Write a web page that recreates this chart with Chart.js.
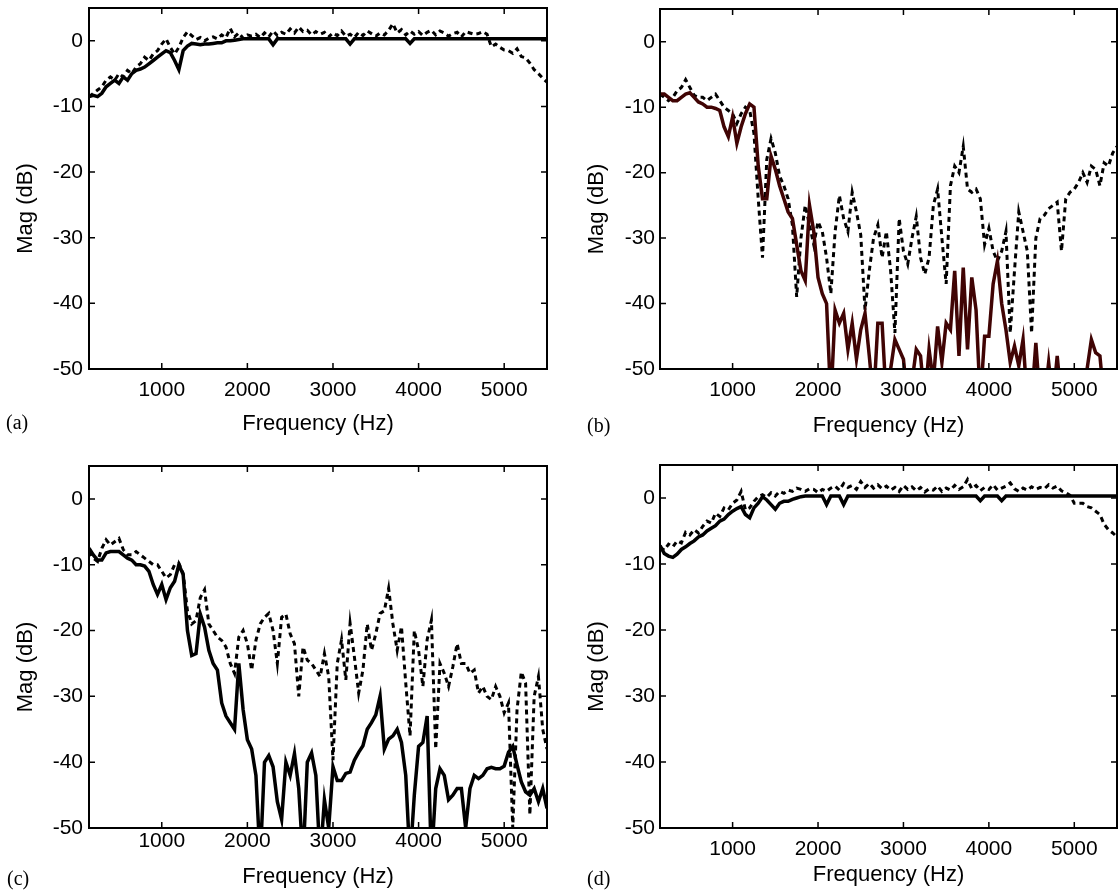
<!DOCTYPE html>
<html>
<head>
<meta charset="utf-8">
<script src="https://cdn.jsdelivr.net/npm/chart.js@4.4.1/dist/chart.umd.min.js"></script>
<style>
  body { margin: 0; background: #fff; width: 1120px; height: 890px; position: relative; overflow: hidden; }
  .painel { position: absolute; width: 560px; height: 445px; }
  .letra { position: absolute; font-family: "Liberation Serif", "Times New Roman", serif; font-size: 20px; line-height: 20px; color: #000; }
</style>
</head>
<body>
<div class="painel" style="left:0;top:0"><canvas id="graficoA"></canvas></div>
<div class="painel" style="left:560px;top:0"><canvas id="graficoB"></canvas></div>
<div class="painel" style="left:0;top:445px"><canvas id="graficoC"></canvas></div>
<div class="painel" style="left:560px;top:445px"><canvas id="graficoD"></canvas></div>
<div class="letra" style="left:6px;top:412px">(a)</div>
<div class="letra" style="left:587px;top:415px">(b)</div>
<div class="letra" style="left:7px;top:868px">(c)</div>
<div class="letra" style="left:587px;top:868px">(d)</div>
<script>
// frequencias (Hz)
const frequencias = [
  150, 200, 250, 300, 350, 400, 450, 500, 550, 600,
  650, 700, 750, 800, 850, 900, 950, 1000, 1050, 1100,
  1150, 1200, 1250, 1300, 1350, 1400, 1450, 1500, 1550, 1600,
  1650, 1700, 1750, 1800, 1850, 1900, 1950, 2000, 2050, 2100,
  2150, 2200, 2250, 2300, 2350, 2400, 2450, 2500, 2550, 2600,
  2650, 2700, 2750, 2800, 2850, 2900, 2950, 3000, 3050, 3100,
  3150, 3200, 3250, 3300, 3350, 3400, 3450, 3500, 3550, 3600,
  3650, 3700, 3750, 3800, 3850, 3900, 3950, 4000, 4050, 4100,
  4150, 4200, 4250, 4300, 4350, 4400, 4450, 4500, 4550, 4600,
  4650, 4700, 4750, 4800, 4850, 4900, 4950, 5000, 5050, 5100,
  5150, 5200, 5250, 5300, 5350, 5400, 5450, 5500
];
const ticksX = [1000, 2000, 3000, 4000, 5000];
const ticksY = [-50, -40, -30, -20, -10, 0];

// (a)
const solidaA = [
  -8.5, -8.3, -8.5, -8, -7, -6.5, -6, -6.5, -5.5, -6,
  -5, -4.5, -4.3, -4, -3.5, -3, -2.5, -2, -1.5, -1.8,
  -3, -4.4, -1.5, -0.8, -0.4, -0.5, -0.6, -0.5, -0.5, -0.4,
  -0.3, -0.3, 0, 0, 0.1, 0.2, 0.3, 0.3, 0.3, 0.3,
  0.3, 0.3, 0.3, -0.6, 0.3, 0.3, 0.3, 0.3, 0.3, 0.3,
  0.3, 0.3, 0.3, 0.3, 0.3, 0.3, 0.3, 0.3, 0.3, 0.3,
  0.3, -0.5, 0.3, 0.3, 0.3, 0.3, 0.3, 0.3, 0.3, 0.3,
  0.3, 0.3, 0.3, 0.3, 0.3, -0.4, 0.3, 0.3, 0.3, 0.3,
  0.3, 0.3, 0.3, 0.3, 0.3, 0.3, 0.3, 0.3, 0.3, 0.3,
  0.3, 0.3, 0.3, 0.3, 0.3, 0.3, 0.3, 0.3, 0.3, 0.3,
  0.3, 0.3, 0.3, 0.3, 0.3, 0.3, 0.3, 0.3
];
const tracejadaA = [
  -8.5, -8, -7.5, -7, -6, -5.5, -6, -5, -5.5, -4.5,
  -5, -4, -3.5, -2.5, -3, -2, -1.5, -0.5, 0.3, -1,
  -2, -1, 0.5, 1.4, 0.8, 0.2, 0.5, 0, 0.4, 0.6,
  0.3, 0.9, 0.5, 1.9, 0.6, 1.2, 0.4, 0.9, 0.7, 1.0,
  0.5, 1.2, 0.6, 1.5, 0.8, 1.3, 1.0, 1.8, 1.2, 2.1,
  1.4, 1.6, 0.9, 1.4, 1.0, 1.3, 0.6, 1.2, 0.8, 1.5,
  0.7, 1.0, 0.5, 1.3, 0.8, 1.5, 1.1, 0.7, 1.2, 0.9,
  1.6, 2.6, 1.2, 1.7, 0.9, 1.5, 1.0, 1.4, 0.8, 1.3,
  1.6, 0.9, 1.5, 1.2, 0.7, 1.1, 1.3, 0.6, 1.4, 1.2,
  1.0, 1.1, 1.4, 1.0, -0.9, -0.5, -1.0, -1.4, -1.5, -1.9,
  -1.2, -2.4, -2.6, -3.4, -4.4, -5.0, -5.7, -6.3
];

// (b)
const solidaB = [
  -8, -8, -8.5, -9, -9, -8.5, -8, -7.8, -8.5, -9.2,
  -9.5, -10, -10, -10.2, -10.5, -13, -14.5, -11.5, -15.5, -13,
  -11, -9.5, -10, -19, -24, -24, -17.5, -19.5, -22, -24,
  -26, -27, -31, -35, -36.5, -25, -29, -36, -38.5, -40,
  -55, -41, -43, -41.5, -47, -43, -48.5, -44, -41.5, -48,
  -55, -43, -43, -55, -50, -45.5, -47, -48.5, -55, -52,
  -47, -48, -55, -47, -52, -43.5, -49, -43, -44, -35,
  -48, -34.5, -47, -36, -41, -55, -45, -45, -37, -33.5,
  -40, -44, -49, -46.5, -49.5, -45.5, -55, -55, -46, -55,
  -55, -49, -55, -48, -55, -55, -55, -55, -55, -55,
  -50, -45.5, -47.5, -48, -55, -55, -55, -55
];
const tracejadaB = [
  -8, -8.5, -9, -8.5, -7.5, -7, -5.8, -7, -8.2, -8.5,
  -8.5, -9, -8.5, -8, -9, -10, -10.5, -11, -12.5, -11,
  -10, -10.5, -14, -24, -33, -18, -14.8, -17, -20.5, -22,
  -24, -28, -39, -30, -25, -28, -31, -27.5, -29, -33,
  -38.5, -29, -23.5, -27, -29, -23, -26, -29.5, -41, -35,
  -30, -28, -33, -29, -35, -44.5, -27, -32, -34, -30,
  -26.7, -33, -35.5, -33, -25, -22.5, -30, -37, -22, -19,
  -20, -16, -22.5, -23, -22.5, -24, -31, -28.5, -32, -33.5,
  -32, -29, -44.5, -35, -26, -29, -32, -44.5, -30, -27,
  -26.5, -25.5, -25, -24.5, -32, -24, -23, -22.5, -21.5, -20,
  -21.5, -19, -19.5, -22, -18.5, -19, -17, -16
];

// (c)
const solidaC = [
  -7.5, -8.5, -9.3, -9.3, -8.2, -8, -8, -8, -8.5, -9,
  -9.3, -10, -10, -10.2, -11, -13, -14.5, -13, -15.3, -13.5,
  -12.5, -10, -11.5, -20, -23.8, -23.5, -17.5, -19.5, -23, -25,
  -26, -31, -33, -34, -35, -25, -32, -36.6, -38, -42,
  -55, -40, -39, -40.7, -46, -48.7, -40, -42, -38.7, -44,
  -55, -40, -38.6, -42, -55, -45.7, -50, -40.7, -42.8, -42.8,
  -41.7, -41.5, -39.7, -38.5, -37.5, -35, -34, -32.8, -30, -38,
  -36.5, -36, -35, -37, -42, -55, -45, -37.6, -37, -33,
  -55, -44, -41, -42, -45.7, -45, -44, -44, -50, -44,
  -42, -42.5, -42, -41, -40.8, -41, -41, -40.6, -38.5, -37.6,
  -40.4, -43, -44.5, -45, -44, -46, -44, -47
];
const tracejadaC = [
  -8, -9, -9.5, -7.5, -6.2, -7, -6.5, -6, -7.7, -8.5,
  -8.5, -8, -8.5, -9, -9.5, -10, -10, -11, -12, -11.5,
  -10, -9.8, -11.3, -17, -19, -18.5, -15, -13.8, -19, -20,
  -21, -21.5, -22.5, -25, -26.5, -21, -20, -22, -26, -21.5,
  -19, -18, -17.4, -20, -25, -18, -17.5, -20.5, -22, -30,
  -22.5, -24.5, -25, -26, -27, -23.5, -27, -39.7, -25, -21.4,
  -27.5, -18.9, -24, -29.5, -26, -19, -23, -20.5, -17.4, -17,
  -13.6, -19, -23, -19.4, -28, -36, -20, -23, -28.5, -21.4,
  -18.4, -38, -25, -26.5, -28.5, -25.5, -22, -25, -25, -26.5,
  -26, -29.5, -28.5, -30, -30.5, -28.5, -30, -32.5, -31, -50,
  -32, -26.3, -28, -48, -30, -27, -35, -38
];

// (d)
const solidaD = [
  -7.2, -8.4, -8.8, -9, -8.5, -7.8, -7.4, -6.9, -6.5, -5.9,
  -5.6, -5, -4.6, -4.2, -3.5, -3.2, -2.5, -2.0, -1.6, -1.3,
  -2.5, -3.0, -1.5, -0.8, 0.2, -0.3, -1.0, -1.7, -0.8, -0.5,
  -0.5, -0.2, 0, 0.2, 0.3, 0.3, 0.3, 0.3, 0.3, -1.0,
  0.3, 0.3, 0.3, -1.0, 0.3, 0.3, 0.3, 0.3, 0.3, 0.3,
  0.3, 0.3, 0.3, 0.3, 0.3, 0.3, 0.3, 0.3, 0.3, 0.3,
  0.3, 0.3, 0.3, 0.3, 0.3, 0.3, 0.3, 0.3, 0.3, 0.3,
  0.3, 0.3, 0.3, 0.3, 0.3, -0.4, 0.3, 0.3, 0.3, 0.3,
  -0.4, 0.3, 0.3, 0.3, 0.3, 0.3, 0.3, 0.3, 0.3, 0.3,
  0.3, 0.3, 0.3, 0.3, 0.3, 0.3, 0.3, 0.3, 0.3, 0.3,
  0.3, 0.3, 0.3, 0.3, 0.3, 0.3, 0.3, 0.3
];
const tracejadaD = [
  -7.5, -7.9, -7, -7.4, -6.5, -6.8, -5.2, -5.6, -4.8, -5.3,
  -4.3, -3.5, -3.8, -2.3, -2.8, -1.5, -1.8, -0.8, -0.3, 1.0,
  -1.8, -1.5, -0.5, 0.2, 0.5, 0.1, 0.8, 0.3, 1.0, 0.7,
  1.2, 1.0, 1.5, 1.3, 1.0, 1.4, 1.3, 0.8, 1.3, 1.0,
  1.5, 1.8, 1.2, 2.2, 1.6, 1.9, 1.3, 2.5, 1.6, 2.2,
  1.5, 2.0, 1.4, 1.8, 1.2, 1.6, 1.0, 1.9, 1.3, 1.7,
  1.1, 1.6, 0.9, 1.4, 1.2, 1.8, 1.0, 1.5, 1.2, 1.9,
  1.3, 1.7, 2.8, 1.4, 1.9, 1.1, 1.6, 1.3, 2.0, 1.2,
  1.5, 1.8, 2.3, 1.4, 1.0, 1.5, 1.2, 1.7, 1.3, 1.6,
  1.4, 2.0, 1.5, 1.8, 1.1, 0.8, 0.4, -0.8, -0.8, -0.8,
  -1.3, -1.5, -2.0, -2.5, -4.0, -4.8, -5.3, -5.9
];

const fonte = '"Liberation Sans", Arial, Helvetica, sans-serif';

function pontos(valores) {
  return frequencias.map((f, i) => ({ x: f, y: valores[i] }));
}

// moldura com marcas para dentro, estilo matlab
const moldura = {
  id: 'moldura',
  afterDatasetsDraw(chart, args, opts) {
    const { ctx, chartArea: a, scales } = chart;
    ctx.save();
    ctx.strokeStyle = '#000';
    ctx.lineWidth = 1.5;
    ctx.beginPath();
    ticksX.forEach(v => {
      const px = scales.x.getPixelForValue(v);
      ctx.moveTo(px, a.bottom); ctx.lineTo(px, a.bottom - 6);
      ctx.moveTo(px, a.top); ctx.lineTo(px, a.top + 6);
    });
    ticksY.forEach(v => {
      const py = scales.y.getPixelForValue(v);
      ctx.moveTo(a.left, py); ctx.lineTo(a.left + 6, py);
      ctx.moveTo(a.right, py); ctx.lineTo(a.right - 6, py);
    });
    ctx.stroke();
    ctx.lineWidth = 2;
    ctx.strokeRect(a.left, a.top, a.right - a.left, a.bottom - a.top);
    ctx.translate(opts.tituloX, (a.top + a.bottom) / 2 + 20);
    ctx.rotate(-Math.PI / 2);
    ctx.font = '22px ' + fonte;
    ctx.fillStyle = '#000';
    ctx.textAlign = 'center';
    ctx.textBaseline = 'middle';
    ctx.fillText('Mag (dB)', 0, 0);
    ctx.restore();
  }
};

function criaPainel(id, solida, tracejada, corSolida, lay) {
  return new Chart(document.getElementById(id), {
    type: 'line',
    data: {
      datasets: [{
        data: pontos(solida),
        borderColor: corSolida,
        borderWidth: 3.5,
        pointRadius: 0,
        tension: 0
      }, {
        data: pontos(tracejada),
        borderColor: '#000',
        borderWidth: 3,
        borderDash: [5, 4],
        pointRadius: 0,
        tension: 0
      }]
    },
    options: {
      animation: false,
      responsive: true,
      maintainAspectRatio: false,
      layout: { padding: { top: lay.topo, right: lay.direita, left: 0, bottom: 0 } },
      plugins: {
        legend: { display: false },
        tooltip: { enabled: false },
        moldura: { tituloX: lay.tituloX }
      },
      scales: {
        x: {
          type: 'linear',
          min: 150,
          max: 5500,
          grid: { display: false, drawTicks: false },
          border: { display: false },
          afterBuildTicks: s => { s.ticks = ticksX.map(v => ({ value: v })); },
          ticks: {
            autoSkip: false,
            maxRotation: 0,
            padding: lay.padX,
            color: '#000',
            font: { family: fonte, size: 21, lineHeight: 1.2 },
            callback: v => String(v)
          },
          title: {
            display: true,
            text: 'Frequency (Hz)',
            color: '#000',
            font: { family: fonte, size: 22, lineHeight: 1.2 },
            padding: { top: 0, bottom: lay.padTitulo }
          },
          afterFit: s => {
            s.height = lay.altX;
            s.paddingLeft = 0;
            s.paddingRight = 0;
          }
        },
        y: {
          min: -50,
          max: 5,
          grid: { display: false, drawTicks: false },
          border: { display: false },
          afterBuildTicks: s => { s.ticks = ticksY.map(v => ({ value: v })); },
          ticks: {
            padding: lay.padY,
            color: '#000',
            font: { family: fonte, size: 21, lineHeight: 1.2 },
            callback: v => String(v)
          },
          afterFit: s => {
            s.width = lay.largY;
            s.paddingTop = 0;
            s.paddingBottom = 0;
          }
        }
      }
    },
    plugins: [moldura]
  });
}

criaPainel('graficoA', solidaA, tracejadaA, '#000',
  { topo: 8, direita: 13, altX: 76, largY: 89, padX: 9, padTitulo: 8, padY: 6, tituloX: 26 });
criaPainel('graficoB', solidaB, tracejadaB, '#400404',
  { topo: 9, direita: 3, altX: 76, largY: 100, padX: 9, padTitulo: 6, padY: 5, tituloX: 37 });
criaPainel('graficoC', solidaC, tracejadaC, '#000',
  { topo: 21, direita: 13, altX: 62, largY: 89, padX: 1, padTitulo: 0, padY: 6, tituloX: 26 });
criaPainel('graficoD', solidaD, tracejadaD, '#000',
  { topo: 20, direita: 3, altX: 62, largY: 100, padX: 9, padTitulo: 2, padY: 5, tituloX: 37 });
</script>
</body>
</html>
